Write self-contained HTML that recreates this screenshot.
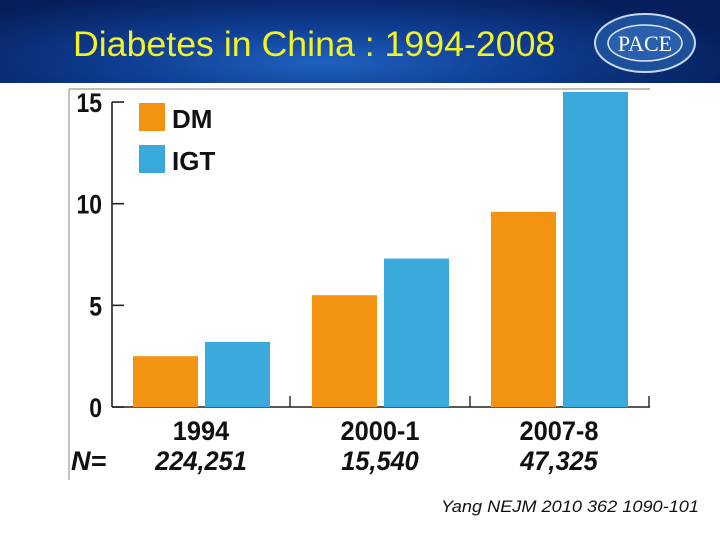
<!DOCTYPE html>
<html><head><meta charset="utf-8"><style>
body{margin:0;width:720px;height:540px;overflow:hidden;background:#fff;font-family:"Liberation Sans",sans-serif}
#hdr{position:absolute;left:0;top:0;width:720px;height:83px;background:radial-gradient(ellipse 60% 90% at 45% 75%,#1f62c0 0%,#0f3f94 45%,#061f5c 100%)}
#title{position:absolute;left:73px;top:25px;font-size:35px;color:#f2f22a;white-space:nowrap;transform-origin:0 0;transform:scale(1.02,1)}
</style></head><body>
<div id="hdr">
<div id="title">Diabetes in China : 1994-2008</div>
<svg style="position:absolute;left:590px;top:10px" width="110" height="66">
<ellipse cx="55" cy="33" rx="50" ry="29" fill="#1e4f9a" stroke="#c8d8f0" stroke-width="2"/>
<ellipse cx="55" cy="33" rx="37" ry="18" fill="#2a5fae" stroke="#dfe8f8" stroke-width="1.5"/>
<text x="55" y="41" text-anchor="middle" font-family="Liberation Serif,serif" font-size="22" fill="#fff">PACE</text>
</svg>
</div>
<svg id="chart" width="720" height="540" style="position:absolute;left:0;top:0"></svg>
<div style="position:absolute;left:441px;top:498px;font-size:16.5px;font-style:italic;color:#111;white-space:nowrap;transform-origin:0 0;transform:scale(1.1,1)">Yang NEJM 2010 362 1090-101</div>
<script>
const categories=["1994","2000-1","2007-8"];
const sampleSizes=["224,251","15,540","47,325"];
const dmValues=[2.5,5.5,9.6];
const igtValues=[3.2,7.3,15.5];
const yTicks=[0,5,10,15];
const NS="http://www.w3.org/2000/svg";
const svg=document.getElementById("chart");
const y0=407,unit=20.33;
const y=v=>y0-v*unit;
const groupX=i=>133+i*179;
function mk(t,a){const e=document.createElementNS(NS,t);for(const k in a)e.setAttribute(k,a[k]);svg.appendChild(e);return e;}
let e;
e=mk("line",{x1:69,y1:89,x2:650,y2:89,stroke:"#999","stroke-width":1.2});


e=mk("line",{x1:69,y1:89,x2:69,y2:480,stroke:"#999","stroke-width":1.2});


e=mk("line",{x1:112,y1:y(15),x2:112,y2:y0,stroke:"#222","stroke-width":1.6});


e=mk("line",{x1:112,y1:y0,x2:650,y2:y0,stroke:"#222","stroke-width":1.6});


yTicks.forEach(v=>{
 e=mk("line",{x1:112,y1:y(v),x2:124,y2:y(v),stroke:"#222","stroke-width":1.6});
 
 
 e=mk("text",{x:102,y:y(v)+10,"text-anchor":"end","font-size":27,"font-weight":"bold",fill:"#111",transform:`scale(0.85,1) translate(${102/0.85-102},0)`});
 e.textContent=v;
 
 
});
[290,470,649].forEach(x=>{
 e=mk("line",{x1:x,y1:y0,x2:x,y2:y0-11,stroke:"#222","stroke-width":1.4});
 
 
});
categories.forEach((c,i)=>{
 const gx=groupX(i);
 e=mk("rect",{x:gx,y:y(dmValues[i]),width:65,height:dmValues[i]*unit,fill:"#f39312"});
 
 
 e=mk("rect",{x:gx+72,y:y(igtValues[i]),width:65,height:igtValues[i]*unit,fill:"#3aa9dc"});
 
 
 const cx=gx+68;
 e=mk("text",{x:cx,y:440,"text-anchor":"middle","font-size":27,"font-weight":"bold",fill:"#111",transform:`translate(${cx*0.06},0) scale(0.94,1)`});
 e.textContent=c;
 
 
 e=mk("text",{x:cx,y:470,"text-anchor":"middle","font-size":27,"font-weight":"bold","font-style":"italic",fill:"#111",transform:`translate(${cx*0.06},0) scale(0.94,1)`});
 e.textContent=sampleSizes[i];
 
 
});
e=mk("text",{x:71,y:470,"font-size":27,"font-weight":"bold","font-style":"italic",fill:"#111"});
e.textContent="N=";


[["DM","#f39312",103],["IGT","#3aa9dc",145]].forEach(([n,c,ty])=>{
 e=mk("rect",{x:139,y:ty,width:26,height:28,fill:c});
 
 
 e=mk("text",{x:172,y:ty+25,"font-size":26,"font-weight":"bold",fill:"#111"});
 e.textContent=n;
 
 
});
</script>
</body></html>
